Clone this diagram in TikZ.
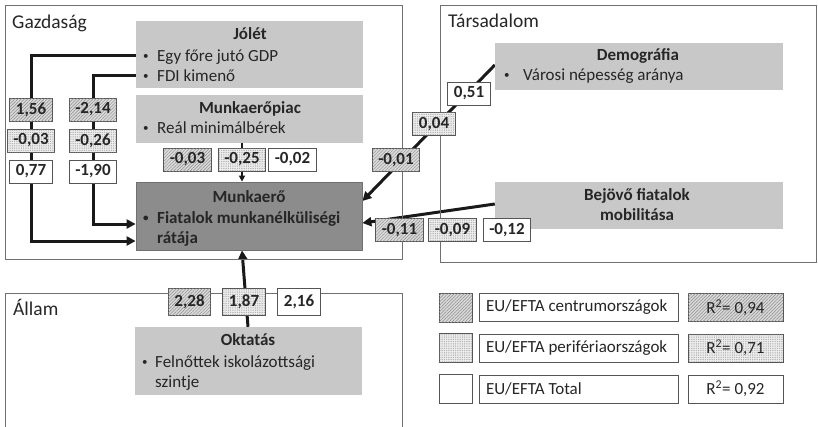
\documentclass[tikz,border=0pt]{standalone}
\usepackage{fontspec}
\setmainfont{Carlito}
\usetikzlibrary{arrows.meta,patterns.meta}
\definecolor{lightbox}{HTML}{C8C8C8}
\definecolor{darkbox}{HTML}{8C8C8C}
\definecolor{framecol}{HTML}{707070}
\definecolor{txt}{HTML}{262626}
\definecolor{vline}{HTML}{555555}
\definecolor{hatchbg}{HTML}{DADADA}
\definecolor{dotbg}{HTML}{EEEEEE}
\pgfdeclarelayer{bg}
\pgfsetlayers{bg,main}
\newcommand{\bul}{\raisebox{2pt}{\fontsize{11}{11}\selectfont•}}
\tikzset{
  frame/.style={draw=framecol, line width=1pt},
  gbox/.style={fill=lightbox, draw=none, inner sep=0pt},
  dbox/.style={fill=darkbox, draw=framecol, line width=0.8pt, inner sep=0pt},
  txtnode/.style={inner sep=0pt, text=txt},
  boldtxt/.style={txtnode, font=\bfseries\fontsize{17}{20}\selectfont},
  seclabel/.style={txtnode, anchor=base west, font=\fontsize{19.5}{23}\selectfont},
  vbox/.style={draw=vline, line width=0.8pt, fill=white, text=txt,
    font=\bfseries\fontsize{17}{19}\selectfont, minimum height=23pt,
    inner xsep=6pt, inner ysep=0pt},
  whitev/.style={vbox},
  centv/.style={vbox, fill=hatchbg, postaction={pattern={Lines[angle=45,distance=2.3pt,line width=0.45pt]}, pattern color=black!45}},
  perifv/.style={vbox, fill=dotbg, postaction={pattern={Dots[distance=1.8pt,radius=0.42pt]}, pattern color=black!45}},
  conn/.style={draw=black!90, line width=3pt, -{Triangle[length=9pt,width=9pt]}},
  thinconn/.style={draw=black!90, line width=2pt, -{Triangle[length=6pt,width=6pt]}},
  legbox/.style={draw=vline, line width=0.8pt, fill=white, text=txt, minimum height=28pt, inner xsep=7pt, inner ysep=0pt}
}
\begin{document}
\begin{tikzpicture}[x=1pt,y=-1pt, font=\fontsize{17}{20}\selectfont]
\useasboundingbox (0,0) rectangle (818,426);
% frames
\draw[frame] (5,5) rectangle (402,259);
\draw[frame] (440,5) rectangle (816,262);
\draw[frame] (5,430) -- (5,293) -- (402,293) -- (402,430);
\node[seclabel] (gazd) at (12,28) {Gazdaság};
\node[seclabel] (tars) at (448,27) {Társadalom};
\node[seclabel] (allam) at (13,315) {Állam};

% gray boxes
\node[gbox, minimum width=227pt, minimum height=67pt] (jolet) at (249.5,54.5) {};
\node[boldtxt, anchor=base] (joletT) at (250,39) {Jólét};
\node[txtnode, anchor=base west] (jol1) at (143,61) {\makebox[14pt][l]{\bul}Egy főre jutó GDP};
\node[txtnode, anchor=base west] (jol2) at (143,81) {\makebox[14pt][l]{\bul}FDI kimenő};

\node[gbox, minimum width=227pt, minimum height=48pt] (mpiac) at (249.5,119) {};
\node[boldtxt, anchor=base] (mpiacT) at (250,113) {Munkaerőpiac};
\node[txtnode, anchor=base west] (mpiac1) at (143,133) {\makebox[14pt][l]{\bul}Reál minimálbérek};

\node[dbox, minimum width=226pt, minimum height=68pt] (mkero) at (249,216) {};
\node[boldtxt, anchor=base] (mkeroT) at (249,202) {Munkaerő};
\node[boldtxt, anchor=base west] (mkero1) at (143,223) {\makebox[14pt][l]{\bul}Fiatalok munkanélküliségi};
\node[boldtxt, anchor=base west] (mkero2) at (157,243) {rátája};

\node[gbox, minimum width=288pt, minimum height=47pt] (demo) at (639,66.5) {};
\node[boldtxt, anchor=base] (demoT) at (638,60) {Demográfia};
\node[txtnode, anchor=base west] (demo1) at (504,80) {\makebox[19pt][l]{\bul}Városi népesség aránya};

\node[gbox, minimum width=288pt, minimum height=47pt] (bej) at (639,205.5) {};
\node[boldtxt, anchor=base] (bejT1) at (637,200) {Bejövő fiatalok};
\node[boldtxt, anchor=base] (bejT2) at (637,220) {mobilitása};

\node[gbox, minimum width=227pt, minimum height=68pt] (okt) at (248.5,361) {};
\node[boldtxt, anchor=base] (oktT) at (248,345) {Oktatás};
\node[txtnode, anchor=base west] (okt1) at (142,367) {\makebox[13pt][l]{\bul}Felnőttek iskolázottsági};
\node[txtnode, anchor=base west] (okt2) at (155,387) {szintje};

% value boxes
\node[centv] (v156) at (31,109.5) {1,56};
\node[perifv] (v003a) at (31,140.5) {-0,03};
\node[whitev] (v077) at (31,171.5) {0,77};
\node[centv] (v214) at (93,109.5) {-2,14};
\node[perifv] (v026) at (93,140.5) {-0,26};
\node[whitev] (v190) at (93,171.5) {-1,90};

\node[centv] (v003b) at (187.5,159.5) {-0,03};
\node[perifv] (v025) at (242,159.5) {-0,25};
\node[whitev] (v002) at (292.5,159.5) {-0,02};

\node[whitev] (v051) at (469,93.5) {0,51};
\node[perifv] (v004) at (434,124) {0,04};
\node[centv] (v001) at (396,160) {-0,01};

\node[centv] (v011) at (399.5,230) {-0,11};
\node[perifv] (v009) at (452.5,230) {-0,09};
\node[whitev] (v012) at (507,230) {-0,12};

\node[centv, minimum height=27pt] (v228) at (189.5,301.5) {2,28};
\node[perifv, minimum height=27pt] (v187) at (244,301.5) {1,87};
\node[whitev, minimum height=27pt] (v216) at (299,301.5) {2,16};

% legend
\node[centv, minimum width=33pt, minimum height=29pt] (sw1) at (455.5,307.5) {};
\node[perifv, minimum width=33pt, minimum height=29pt] (sw2) at (455.5,348) {};
\node[whitev, minimum width=33pt, minimum height=29pt] (sw3) at (455.5,389) {};
\node[legbox] (lab1) at (578.5,307.5) {\makebox[185pt][l]{EU/EFTA centrumországok}};
\node[legbox] (lab2) at (578.5,348) {\makebox[185pt][l]{EU/EFTA perifériaországok}};
\node[legbox] (lab3) at (578.5,389) {\makebox[185pt][l]{EU/EFTA Total}};
\node[legbox, fill=hatchbg, postaction={pattern={Lines[angle=45,distance=2.3pt,line width=0.45pt]}, pattern color=black!45}, minimum width=95pt] (r1) at (735.5,307.5) {R\textsuperscript{2}= 0,94};
\node[legbox, fill=dotbg, postaction={pattern={Dots[distance=1.8pt,radius=0.42pt]}, pattern color=black!45}, minimum width=95pt] (r2) at (735.5,348) {R\textsuperscript{2}= 0,71};
\node[legbox, minimum width=95pt] (r3) at (735.5,389) {R\textsuperscript{2}= 0,92};

% connectors
\coordinate (k1) at (31,55);
\coordinate (k2) at (31,241);
\coordinate (k3) at (93,75);
\coordinate (k4) at (93,224);
\coordinate (d1) at (0,65);
\coordinate (d2) at (0,201);
\coordinate (b1) at (0,204);
\coordinate (b2) at (0,223);
\coordinate (o1) at (248,0);
\coordinate (o2) at (242,0);
\begin{pgfonlayer}{bg}
\draw[conn] (jolet.west |- k1) -- (k1) -- (k2) -- (mkero.west |- k2);
\draw[conn] (jolet.west |- k3) -- (k3) -- (k4) -- (mkero.west |- k4);
\draw[thinconn] (mpiac.south -| v025) -- (mkero.north -| v025);
\draw[conn] (demo.west |- d1) -- (mkero.east |- d2);
\draw[conn] (bej.west |- b1) -- (mkero.east |- b2);
\draw[conn] (okt.north -| o1) -- (mkero.south -| o2);
\end{pgfonlayer}
\end{tikzpicture}
\end{document}
